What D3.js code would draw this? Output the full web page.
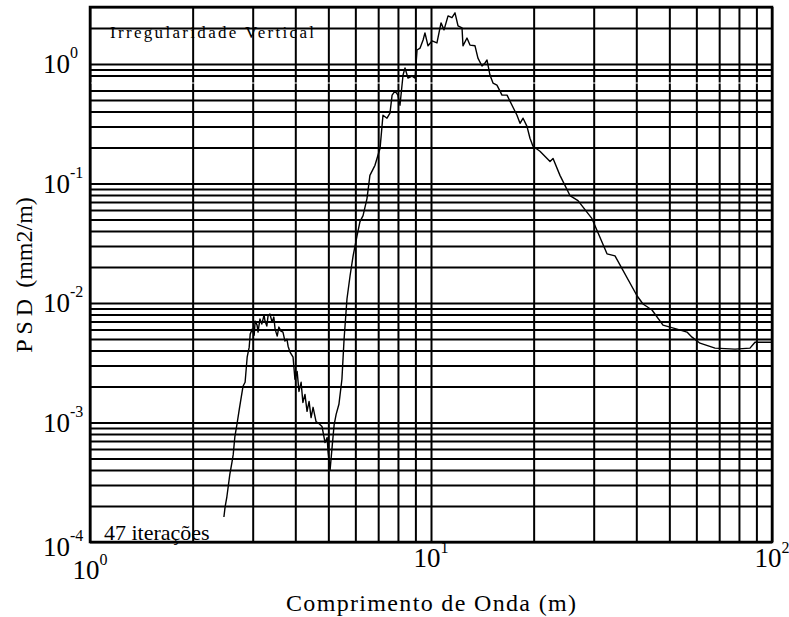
<!DOCTYPE html>
<html>
<head>
<meta charset="utf-8">
<script src="https://cdn.jsdelivr.net/npm/d3@7"></script>
<style>
  body { margin: 0; background: #fff; }
  text { font-family: 'Liberation Serif', 'Times New Roman', serif; fill: #000; }
</style>
</head>
<body>
<div id="chart"></div>
<script>
// values (wavelength in m, PSD in mm2/m)
const wavelength = [2.47, 2.49, 2.52, 2.57, 2.61, 2.63, 2.66, 2.70, 2.74, 2.77,
  2.81, 2.85, 2.89, 2.93, 2.95, 2.99, 3.03, 3.05, 3.09, 3.11,
  3.15, 3.19, 3.24, 3.26, 3.30, 3.33, 3.37, 3.42, 3.46, 3.49,
  3.54, 3.58, 3.63, 3.68, 3.73, 3.78, 3.81, 3.86, 3.94, 3.99,
  4.05, 4.10, 4.16, 4.21, 4.27, 4.33, 4.39, 4.45, 4.51, 4.60,
  4.69, 4.79, 4.89, 4.96, 4.99, 5.06, 5.13, 5.20, 5.27, 5.37,
  5.48, 5.56, 5.67, 5.79, 5.91, 6.07, 6.19, 6.32, 6.49, 6.62,
  6.85, 7.09, 7.23, 7.43, 7.58, 7.69, 7.84, 8.00, 8.11, 8.28,
  8.39, 8.56, 8.80, 8.98, 9.10, 9.29, 9.48, 9.60, 9.80, 10.07,
  10.41, 10.70, 10.92, 11.22, 11.52, 11.76, 12.00, 12.33, 12.41, 12.75,
  13.01, 13.46, 13.73, 14.11, 14.40, 14.60, 14.89, 15.20, 15.61, 16.15,
  16.71, 17.28, 17.87, 18.24, 18.62, 19.12, 19.51, 19.91, 20.87, 22.34,
  22.80, 23.89, 25.56, 26.98, 29.66, 32.82, 34.64, 40.19, 41.85, 44.47,
  47.90, 52.65, 56.33, 58.28, 61.50, 68.07, 77.90, 86.19, 89.15, 100];

const psd = [1.62e-4, 1.97e-4, 2.39e-4, 3.66e-4, 4.70e-4, 5.38e-4, 7.63e-4, 9.81e-4, 1.29e-3, 1.56e-3,
  2.01e-3, 2.17e-3, 3.52e-3, 4.27e-3, 5.49e-3, 6.05e-3, 5.38e-3, 7.06e-3, 6.53e-3, 5.71e-3,
  7.34e-3, 6.66e-3, 7.93e-3, 7.06e-3, 6.41e-3, 7.93e-3, 8.09e-3, 6.92e-3, 7.63e-3, 6.05e-3,
  5.28e-3, 6.29e-3, 5.82e-3, 5.71e-3, 4.80e-3, 4.98e-3, 4.35e-3, 3.88e-3, 3.52e-3, 2.30e-3,
  2.68e-3, 1.82e-3, 2.17e-3, 1.47e-3, 1.72e-3, 1.24e-3, 1.50e-3, 1.10e-3, 1.34e-3, 1.02e-3,
  9.81e-4, 9.26e-4, 6.79e-4, 7.48e-4, 5.71e-4, 4.03e-4, 6.29e-4, 9.62e-4, 1.17e-3, 1.42e-3,
  2.30e-3, 4.98e-3, 1.08e-2, 1.69e-2, 2.48e-2, 3.66e-2, 4.80e-2, 5.38e-2, 7.48e-2, 0.117,
  0.142, 0.197, 0.373, 0.352, 0.388, 0.549, 0.593, 0.549, 0.452, 0.809,
  0.926, 0.763, 0.793, 0.763, 1.31, 1.36, 1.59, 1.82, 1.42, 1.56,
  1.50, 2.21, 1.93, 2.53, 2.44, 2.68, 2.09, 2.01, 1.42, 1.65,
  1.44, 1.42, 1.12, 0.962, 1.02, 1.08, 0.809, 0.692, 0.666, 0.549,
  0.549, 0.452, 0.373, 0.319, 0.352, 0.301, 0.239, 0.205, 0.186, 0.153,
  0.162, 0.117, 0.0793, 0.0720, 0.0508, 0.0258, 0.0248, 0.0115, 0.00981, 0.00874,
  0.00653, 0.00605, 0.00571, 0.00518, 0.00461, 0.00419, 0.00411, 0.00419, 0.00470, 0.00470];

const xTickExp = [0, 1, 2];
const yTickExp = [0, -1, -2, -3, -4];

const W = 789, H = 617;
const margin = { top: 7, right: 17, bottom: 75, left: 90 };
const width = W - margin.left - margin.right;
const height = H - margin.top - margin.bottom;

const svg = d3.select('#chart').append('svg')
  .attr('width', W)
  .attr('height', H);

const g = svg.append('g')
  .attr('transform', `translate(${margin.left},${margin.top})`);

const x = d3.scaleLog().domain([1, 100]).range([0, width]);
const y = d3.scaleLog().domain([1e-4, 3]).range([height, 0]);

// vertical grid
const gx = g.append('g')
  .attr('transform', `translate(0,${height})`)
  .call(d3.axisBottom(x).tickValues(x.ticks()).tickSize(-height).tickFormat(''));
gx.select('.domain').remove();
gx.selectAll('.tick line').attr('stroke', '#000').attr('stroke-width', 2);

// horizontal grid (the 0.7 line shows up white in the original)
const gy = g.append('g')
  .call(d3.axisLeft(y).tickValues(y.ticks()).tickSize(-width).tickFormat(''));
gy.select('.domain').remove();
gy.selectAll('.tick line')
  .attr('stroke', d => Math.abs(d - 0.7) < 1e-9 ? '#fff' : '#000')
  .attr('stroke-width', d => Math.abs(d - 0.7) < 1e-9 ? 1 : 2);
gy.selectAll('.tick').filter(d => Math.abs(d - 0.7) < 1e-9).raise();

// frame
g.append('rect')
  .attr('width', width)
  .attr('height', height)
  .attr('fill', 'none')
  .attr('stroke', '#000')
  .attr('stroke-width', 2.5);

// PSD curve
const line = d3.line()
  .x(d => x(d[0]))
  .y(d => y(d[1]));

g.append('path')
  .datum(d3.zip(wavelength, psd))
  .attr('fill', 'none')
  .attr('stroke', '#000')
  .attr('stroke-width', 1.4)
  .attr('stroke-linejoin', 'round')
  .attr('d', line);

// y tick labels
const yLab = svg.append('g').selectAll('text')
  .data(yTickExp)
  .enter()
  .append('text')
  .attr('x', 43)
  .attr('y', d => margin.top + y(Math.pow(10, d)) + (d === -4 ? 14 : 9))
  .style('font-size', '27px');
yLab.append('tspan').text('10');
yLab.append('tspan').attr('dy', -15).style('font-size', '16px').text(d => d);

// x tick labels
const xLab = svg.append('g').selectAll('text')
  .data(xTickExp)
  .enter()
  .append('text')
  .attr('x', d => margin.left + x(Math.pow(10, d)))
  .attr('y', d => d === 0 ? 579 : 567)
  .attr('text-anchor', 'middle')
  .style('font-size', '27px');
xLab.append('tspan').text('10');
xLab.append('tspan').attr('dy', -14).style('font-size', '16px').text(d => d);

// axis titles
svg.append('text')
  .attr('x', margin.left + width / 2)
  .attr('y', 611)
  .attr('text-anchor', 'middle')
  .attr('textLength', 290)
  .attr('lengthAdjust', 'spacing')
  .style('font-size', '24px')
  .text('Comprimento de Onda (m)');

const yTitle = svg.append('text')
  .attr('transform', 'translate(32,275) rotate(-90)')
  .attr('text-anchor', 'middle')
  .style('font-size', '24px');
yTitle.append('tspan').style('letter-spacing', '5px').text('PSD');
yTitle.append('tspan').text(' (mm2/m)');

// annotations inside the plot
svg.append('text')
  .attr('x', 110)
  .attr('y', 38)
  .attr('textLength', 204)
  .attr('lengthAdjust', 'spacing')
  .style('font-size', '17px')
  .text('Irregularidade Vertical');

svg.append('text')
  .attr('x', 104)
  .attr('y', 540)
  .style('font-size', '22px')
  .text('47 iterações');
</script>
</body>
</html>
